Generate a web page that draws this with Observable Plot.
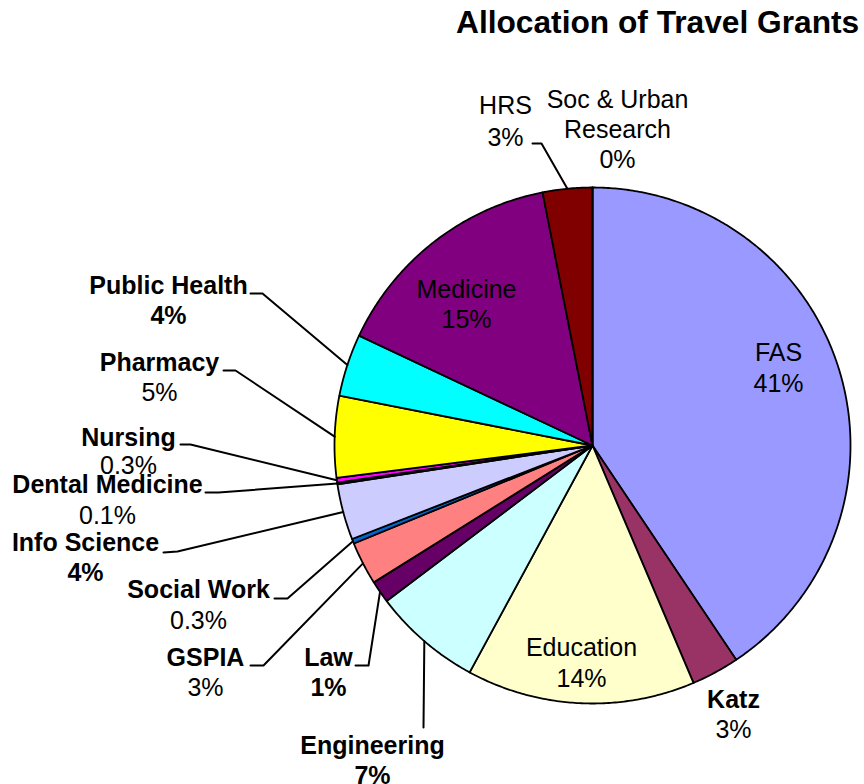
<!DOCTYPE html>
<html>
<head>
<meta charset="utf-8">
<script src="https://cdn.jsdelivr.net/npm/d3@7"></script>
<script src="https://cdn.jsdelivr.net/npm/@observablehq/plot@0.6"></script>
<style>
  body { margin: 0; background: #fff; font-family: "Liberation Sans", Arial, sans-serif; }
  #wrap { width: 864px; height: 784px; position: relative; overflow: hidden; }
  #title { height: 44px; position: relative; }
  #title span { position: absolute; left: 456px; top: 7px; font-size: 31.7px; line-height: 31px; font-weight: bold; color: #000; white-space: nowrap; }
</style>
</head>
<body>
<div id="wrap">
  <div id="title"><span>Allocation of Travel Grants</span></div>
  <div id="chart"></div>
</div>
<script>
// ---- data (clockwise from 12 o'clock) ----
const categories = ["FAS", "Katz", "Education", "Engineering", "Law", "GSPIA", "Social Work",
  "Info Science", "Dental Medicine", "Nursing", "Pharmacy", "Public Health", "Medicine", "HRS",
  "Soc & Urban Research"];
const values = [40.6, 3.0, 14.3, 6.8, 1.4, 2.7, 0.3, 3.5, 0.1, 0.3, 5.1, 3.9, 14.9, 3.1, 0.0];
const percentLabels = ["41%", "3%", "14%", "7%", "1%", "3%", "0.3%", "4%", "0.1%", "0.3%", "5%", "4%", "15%", "3%", "0%"];
const nameLines = ["FAS", "Katz", "Education", "Engineering", "Law", "GSPIA", "Social Work",
  "Info Science", "Dental Medicine", "Nursing", "Pharmacy", "Public Health", "Medicine", "HRS",
  "Soc & Urban\nResearch"];
const colors = ["#9999FF", "#993366", "#FFFFCC", "#CCFFFF", "#660066", "#FF8080", "#0066CC",
  "#CCCCFF", "#000080", "#FF00FF", "#FFFF00", "#00FFFF", "#800080", "#800000", "#008080"];

// ---- layout (page pixels) ----
const TOP = 44, W = 864, H = 784 - TOP;
const CX = 592, CY = 445, R = 258;
// label centre x, baseline of last name line, offset of % line
const labelLayout = [
  [778, 360, 31], [733, 707, 30], [581, 655, 31], [372, 753, 30], [328, 665, 30], [205, 665, 30],
  [198, 597, 31], [85, 550, 30], [107, 492, 31], [128, 445, 28], [159, 370, 30], [168, 293, 30],
  [466, 297, 30], [505, 113, 32], [617, 137, 30]
];
const boldName = [false, true, false, true, true, true, true, true, true, true, true, true, false, false, false];
const boldPct  = [false, false, false, true, true, false, false, true, false, false, false, true, false, false, false];
// leader lines: label-side start and elbow (null = no leader)
const leaderLayout = [
  null, null, null, [[423, 727], [423, 727]], [[355, 665], [368, 665]], [[250, 665], [263, 665]],
  [[274, 598], [287, 598]], [[163, 552], [177, 551]], [[205, 492], [218, 492]], [[180, 444], [190, 444]],
  [[223, 370], [235, 370]], [[250, 293], [262, 293]], null, [[532, 143], [541, 143]], null
];

// ---- derived geometry ----
const total = d3.sum(values);
let acc = 0;
const slices = categories.map((name, i) => {
  const a0 = acc / total * 2 * Math.PI;
  acc += values[i];
  const a1 = acc / total * 2 * Math.PI;
  return {name, i, a0, a1, mid: (a0 + a1) / 2};
});
const px = a => CX + R * Math.sin(a);
const py = a => CY - R * Math.cos(a);

const polyPts = slices.flatMap(s => {
  const pts = [{name: s.name, x: CX, y: CY}];
  const n = Math.max(2, Math.ceil((s.a1 - s.a0) / (Math.PI / 360)));
  for (let k = 0; k <= n; k++) {
    const a = s.a0 + (s.a1 - s.a0) * k / n;
    pts.push({name: s.name, x: px(a), y: py(a)});
  }
  return pts;
});

const leaderPts = slices.flatMap(s => {
  const L = leaderLayout[s.i];
  if (!L) return [];
  return [
    {name: s.name, x: L[0][0], y: L[0][1]},
    {name: s.name, x: L[1][0], y: L[1][1]},
    {name: s.name, x: px(s.mid), y: py(s.mid)}
  ];
});

const labels = slices.map(s => ({
  name: nameLines[s.i], pct: percentLabels[s.i],
  x: labelLayout[s.i][0], y: labelLayout[s.i][1], y2: labelLayout[s.i][1] + labelLayout[s.i][2],
  bn: boldName[s.i], bp: boldPct[s.i]
}));

const textOpts = {fontSize: 25, lineAnchor: "bottom", lineHeight: 1.18, textAnchor: "middle", fill: "black"};

const chart = Plot.plot({
  width: W, height: H,
  margin: 0,
  x: {domain: [0, W], range: [0, W], axis: null},
  y: {domain: [TOP, TOP + H], range: [0, H], axis: null},
  color: {domain: categories, range: colors},
  style: {fontFamily: "'Liberation Sans', Arial, sans-serif", background: "white"},
  marks: [
    Plot.line(polyPts, {x: "x", y: "y", z: "name", fill: "name", stroke: "black", strokeWidth: 1.8,
      curve: "linear-closed", strokeLinejoin: "round"}),
    Plot.line(leaderPts, {x: "x", y: "y", z: "name", stroke: "black", strokeWidth: 2}),
    Plot.text(labels.filter(d => d.bn), {...textOpts, x: "x", y: "y", text: "name", fontWeight: "bold"}),
    Plot.text(labels.filter(d => !d.bn), {...textOpts, x: "x", y: "y", text: "name"}),
    Plot.text(labels.filter(d => d.bp), {...textOpts, x: "x", y: "y2", text: "pct", fontWeight: "bold"}),
    Plot.text(labels.filter(d => !d.bp), {...textOpts, x: "x", y: "y2", text: "pct"})
  ]
});
document.getElementById("chart").appendChild(chart);
</script>
</body>
</html>
